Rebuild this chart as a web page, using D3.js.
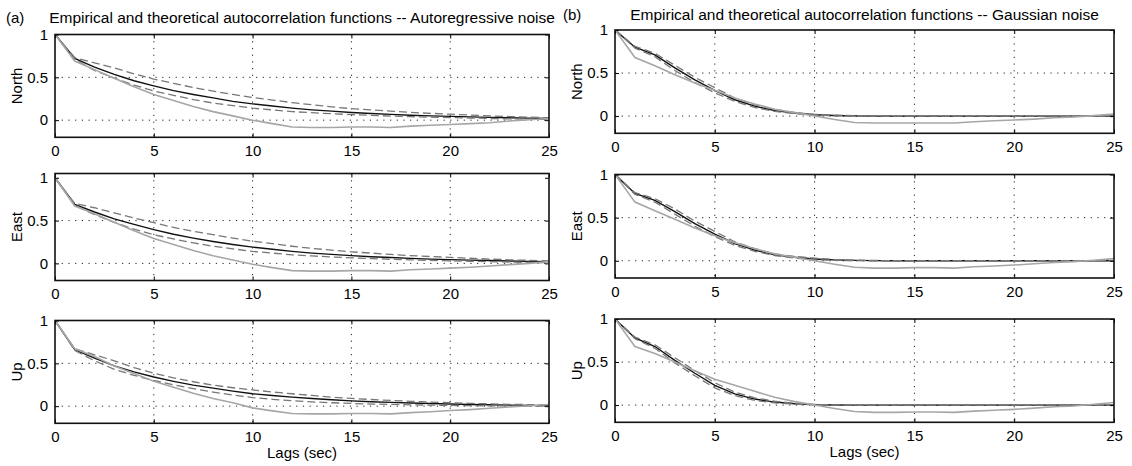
<!DOCTYPE html>
<html>
<head>
<meta charset="utf-8">
<script src="https://cdn.jsdelivr.net/npm/d3@7"></script>
<style>
  html, body { margin: 0; padding: 0; background: #fff; }
  svg { display: block; font-family: "Liberation Sans", Arial, Helvetica, sans-serif; }
</style>
</head>
<body>
<svg id="chart" width="1132" height="466"></svg>
<script>
// ---------- data ----------
const lags = [0,1,2,3,4,5,6,7,8,9,10,11,12,13,14,15,16,17,18,19,20,21,22,23,24,25];
const xTicks = [0, 5, 10, 15, 20, 25];
const yTicks = [0, 0.5, 1];
const yTickLabels = ["0", "0.5", "1"];
const components = ["North", "East", "Up"];
const titleA = "Empirical and theoretical autocorrelation functions -- Autoregressive noise";
const titleB = "Empirical and theoretical autocorrelation functions -- Gaussian noise";
const xLabel = "Lags (sec)";

// (a) Autoregressive noise
const arNorthTheo  = [1,0.72,0.62,0.535,0.46,0.40,0.345,0.30,0.26,0.22,0.19,0.165,0.14,0.12,0.105,0.09,0.078,0.068,0.058,0.05,0.044,0.038,0.033,0.028,0.024,0.02];
const arNorthUpper = [1,0.73,0.67,0.61,0.54,0.48,0.43,0.38,0.34,0.30,0.265,0.235,0.205,0.18,0.155,0.135,0.12,0.105,0.09,0.08,0.07,0.06,0.05,0.042,0.035,0.028];
const arNorthLower = [1,0.71,0.58,0.49,0.41,0.34,0.29,0.24,0.20,0.17,0.14,0.12,0.10,0.087,0.075,0.065,0.056,0.048,0.041,0.035,0.03,0.025,0.02,0.015,0.011,0.008];
const arNorthEmp   = [1,0.69,0.59,0.49,0.39,0.30,0.23,0.16,0.10,0.05,0.0,-0.04,-0.08,-0.085,-0.085,-0.08,-0.08,-0.085,-0.07,-0.06,-0.05,-0.04,-0.03,-0.01,0.005,0.02];

const arEastTheo  = [1,0.69,0.60,0.52,0.455,0.395,0.34,0.295,0.255,0.22,0.19,0.165,0.14,0.12,0.105,0.09,0.078,0.068,0.058,0.05,0.044,0.038,0.033,0.028,0.024,0.02];
const arEastUpper = [1,0.70,0.65,0.59,0.53,0.475,0.42,0.375,0.335,0.295,0.26,0.23,0.20,0.175,0.155,0.135,0.12,0.105,0.09,0.08,0.07,0.06,0.05,0.042,0.035,0.028];
const arEastLower = [1,0.68,0.57,0.48,0.40,0.335,0.285,0.24,0.20,0.17,0.14,0.12,0.10,0.087,0.075,0.065,0.056,0.048,0.041,0.035,0.03,0.025,0.02,0.015,0.011,0.008];
const arEastEmp   = [1,0.67,0.58,0.48,0.38,0.29,0.22,0.15,0.09,0.04,-0.01,-0.05,-0.085,-0.09,-0.09,-0.085,-0.085,-0.09,-0.075,-0.065,-0.055,-0.045,-0.03,-0.015,0.0,0.02];

const arUpTheo  = [1,0.66,0.56,0.47,0.40,0.34,0.29,0.245,0.21,0.175,0.145,0.125,0.105,0.09,0.075,0.062,0.052,0.044,0.037,0.031,0.025,0.02,0.016,0.012,0.009,0.006];
const arUpUpper = [1,0.67,0.60,0.53,0.45,0.385,0.33,0.285,0.245,0.215,0.19,0.165,0.145,0.125,0.105,0.09,0.078,0.067,0.057,0.048,0.04,0.033,0.027,0.022,0.018,0.015];
const arUpLower = [1,0.65,0.53,0.43,0.36,0.30,0.25,0.205,0.165,0.13,0.10,0.08,0.063,0.05,0.04,0.032,0.025,0.02,0.016,0.012,0.009,0.006,0.004,0.002,0.001,0.0];
const arUpEmp   = [1,0.67,0.58,0.47,0.38,0.29,0.22,0.15,0.09,0.04,-0.02,-0.055,-0.085,-0.09,-0.09,-0.085,-0.085,-0.09,-0.075,-0.065,-0.05,-0.04,-0.025,-0.01,0.005,0.02];

// (b) Gaussian noise
const gaNorthTheo  = [1,0.80,0.71,0.56,0.42,0.30,0.19,0.115,0.065,0.035,0.015,0.006,0.002,0,0,0,0,0,0,0,0,0,0,0,0,0];
const gaNorthUpper = [1,0.81,0.73,0.59,0.45,0.33,0.21,0.13,0.075,0.042,0.02,0.01,0.005,0.002,0.001,0,0,0,0,0,0,0,0,0,0,0];
const gaNorthLower = [1,0.79,0.69,0.53,0.39,0.27,0.17,0.10,0.055,0.028,0.01,0.002,0,0,0,0,0,0,0,0,0,0,0,0,0,0];
const gaNorthEmp   = [1,0.68,0.585,0.48,0.385,0.30,0.21,0.14,0.08,0.04,0.0,-0.04,-0.075,-0.08,-0.08,-0.08,-0.08,-0.08,-0.065,-0.055,-0.045,-0.035,-0.02,-0.01,0.005,0.025];

const gaEastTheo  = [1,0.78,0.70,0.57,0.43,0.31,0.20,0.125,0.07,0.04,0.02,0.01,0.004,0.001,0,0,0,0,0,0,0,0,0,0,0,0];
const gaEastUpper = [1,0.79,0.72,0.60,0.46,0.34,0.22,0.14,0.08,0.05,0.03,0.015,0.007,0.003,0.001,0,0,0,0,0,0,0,0,0,0,0];
const gaEastLower = [1,0.77,0.68,0.54,0.40,0.28,0.18,0.11,0.06,0.03,0.012,0.005,0.001,0,0,0,0,0,0,0,0,0,0,0,0,0];
const gaEastEmp   = [1,0.68,0.58,0.48,0.38,0.29,0.21,0.14,0.08,0.04,0.0,-0.04,-0.075,-0.085,-0.085,-0.08,-0.08,-0.085,-0.07,-0.06,-0.05,-0.035,-0.02,-0.01,0.005,0.025];

const gaUpTheo  = [1,0.78,0.68,0.52,0.37,0.23,0.13,0.07,0.035,0.015,0.005,0.001,0,0,0,0,0,0,0,0,0,0,0,0,0,0];
const gaUpUpper = [1,0.79,0.70,0.55,0.40,0.26,0.15,0.085,0.045,0.02,0.008,0.002,0,0,0,0,0,0,0,0,0,0,0,0,0,0];
const gaUpLower = [1,0.77,0.66,0.49,0.34,0.20,0.11,0.055,0.025,0.01,0.002,0,0,0,0,0,0,0,0,0,0,0,0,0,0,0];
const gaUpEmp   = [1,0.68,0.60,0.50,0.40,0.30,0.23,0.16,0.09,0.04,0.0,-0.04,-0.075,-0.085,-0.085,-0.08,-0.08,-0.085,-0.07,-0.06,-0.05,-0.035,-0.02,-0.01,0.01,0.03];

// ---------- layout ----------
const svg = d3.select("#chart");
const FONT = 15;
const FAMILY = '"Liberation Sans", Arial, sans-serif';

const panels = [
  {col:0, label:components[0], x0:55,  x1:549,  top:34.5, bottom:137.3, yMax:1,    theo:arNorthTheo, up:arNorthUpper, lo:arNorthLower, emp:arNorthEmp},
  {col:0, label:components[1], x0:55,  x1:549,  top:173.5, bottom:280.5, yMax:1.05, theo:arEastTheo,  up:arEastUpper,  lo:arEastLower,  emp:arEastEmp},
  {col:0, label:components[2], x0:55,  x1:549,  top:320.5, bottom:423.3, yMax:1,    theo:arUpTheo,    up:arUpUpper,    lo:arUpLower,    emp:arUpEmp, last:true},
  {col:1, label:components[0], x0:615, x1:1114, top:30,   bottom:133.3, yMax:1,    theo:gaNorthTheo, up:gaNorthUpper, lo:gaNorthLower, emp:gaNorthEmp},
  {col:1, label:components[1], x0:615, x1:1114, top:174.5, bottom:278, yMax:1,    theo:gaEastTheo,  up:gaEastUpper,  lo:gaEastLower,  emp:gaEastEmp},
  {col:1, label:components[2], x0:615, x1:1114, top:319,  bottom:422.3, yMax:1,    theo:gaUpTheo,    up:gaUpUpper,    lo:gaUpLower,    emp:gaUpEmp, last:true}
];

panels.forEach((p, pi) => {
  const x = d3.scaleLinear().domain([0, 25]).range([p.x0, p.x1]);
  const y = d3.scaleLinear().domain([-0.2, p.yMax]).range([p.bottom, p.top]);
  const g = svg.append("g");

  // grid (dotted)
  const grid = g.append("g").attr("stroke", "#222").attr("stroke-width", 1).attr("stroke-dasharray", "1.2,5.5");
  xTicks.filter(t => t > 0 && t < 25).forEach(t => {
    grid.append("line").attr("x1", x(t)).attr("x2", x(t)).attr("y1", p.top).attr("y2", p.bottom);
  });
  yTicks.filter(t => t < 1).forEach(t => {
    grid.append("line").attr("x1", p.x0).attr("x2", p.x1).attr("y1", y(t)).attr("y2", y(t));
  });

  // clip for curves
  const clipId = "clip" + pi;
  svg.append("clipPath").attr("id", clipId).append("rect")
    .attr("x", p.x0).attr("y", p.top).attr("width", p.x1 - p.x0).attr("height", p.bottom - p.top);
  const curves = g.append("g").attr("clip-path", `url(#${clipId})`);
  const line = d3.line().x((d, i) => x(lags[i])).y(d => y(d));

  curves.append("path").attr("d", line(p.theo)).attr("fill", "none").attr("stroke", "#111").attr("stroke-width", 1.4);
  [p.up, p.lo].forEach(arr => {
    curves.append("path").attr("d", line(arr)).attr("fill", "none").attr("stroke", "#777")
      .attr("stroke-width", 1.3).attr("stroke-dasharray", "8,4");
  });
  curves.append("path").attr("d", line(p.emp)).attr("fill", "none").attr("stroke", "#a6a6a6").attr("stroke-width", 1.6);

  // axes (ticks inside, labels)
  const xAxisB = d3.axisBottom(x).tickValues(xTicks).tickSizeInner(-4).tickSizeOuter(0).tickPadding(8).tickFormat(d3.format("d"));
  const xAxisT = d3.axisTop(x).tickValues(xTicks).tickSizeInner(-4).tickSizeOuter(0).tickFormat("");
  const yAxisL = d3.axisLeft(y).tickValues(yTicks).tickSizeInner(-4).tickSizeOuter(0).tickPadding(7).tickFormat((d, i) => yTickLabels[i]);
  const yAxisR = d3.axisRight(y).tickValues(yTicks).tickSizeInner(-4).tickSizeOuter(0).tickFormat("");

  g.append("g").attr("transform", `translate(0,${p.bottom})`).call(xAxisB);
  g.append("g").attr("transform", `translate(0,${p.top})`).call(xAxisT);
  g.append("g").attr("transform", `translate(${p.x0},0)`).call(yAxisL);
  g.append("g").attr("transform", `translate(${p.x1},0)`).call(yAxisR);
  g.selectAll(".domain").remove();
  g.selectAll(".tick line").attr("stroke", "#000").attr("stroke-width", 1);
  g.selectAll(".tick text").attr("fill", "#000").style("font-size", FONT + "px").style("font-family", FAMILY);

  // box
  g.append("rect").attr("x", p.x0).attr("y", p.top).attr("width", p.x1 - p.x0).attr("height", p.bottom - p.top)
    .attr("fill", "none").attr("stroke", "#111").attr("stroke-width", 1.6);

  // y label
  const bx = p.col === 0 ? 22 : 582;
  g.append("text").attr("transform", `translate(${bx},${(p.top + p.bottom) / 2}) rotate(-90)`)
    .attr("text-anchor", "middle").style("font-size", "15px").text(p.label);

  if (p.last) {
    g.append("text").attr("x", (p.x0 + p.x1) / 2).attr("y", p.bottom + 35)
      .attr("text-anchor", "middle").style("font-size", "15px").text(xLabel);
  }
});

// titles
svg.append("text").attr("x", 6).attr("y", 23).style("font-size", "15px").text("(a)");
svg.append("text").attr("x", (55 + 549) / 2).attr("y", 23).attr("text-anchor", "middle")
  .style("font-size", "15.5px").text(titleA);
svg.append("text").attr("x", 563).attr("y", 19.5).style("font-size", "15px").text("(b)");
svg.append("text").attr("x", (615 + 1114) / 2).attr("y", 19.5).attr("text-anchor", "middle")
  .style("font-size", "15.5px").text(titleB);
</script>
</body>
</html>
